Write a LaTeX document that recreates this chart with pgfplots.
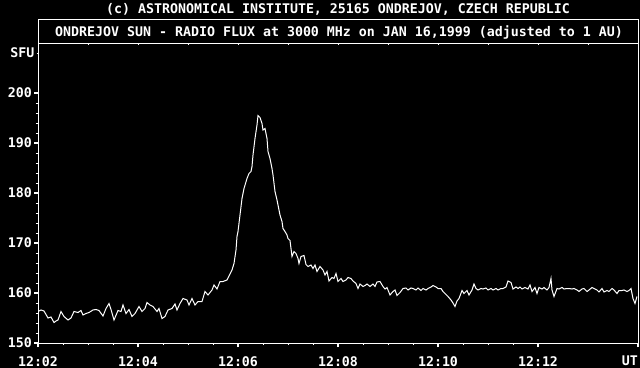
\documentclass[border=0pt]{standalone}
\usepackage{fontspec}
\setmainfont{DejaVu Sans Mono}
\usepackage{pgfplots}
\usepackage{pgfplotstable}
\pgfplotsset{compat=1.18}
\pgfplotstableread{
t f
2.00 156.3
2.06 156.6
2.12 156.4
2.20 155.0
2.26 155.2
2.32 154.1
2.36 154.4
2.40 154.6
2.46 156.3
2.52 155.3
2.60 154.6
2.66 155.0
2.72 156.3
2.80 156.1
2.86 156.5
2.90 155.6
2.96 155.9
3.02 156.1
3.10 156.6
3.16 156.7
3.22 156.5
3.30 155.4
3.36 156.9
3.42 157.9
3.46 156.7
3.52 154.6
3.60 156.5
3.66 156.3
3.70 157.6
3.76 155.9
3.82 156.7
3.88 155.3
3.94 155.9
4.02 157.3
4.08 156.3
4.14 156.9
4.18 158.1
4.24 157.6
4.30 157.3
4.38 156.3
4.42 156.9
4.48 154.9
4.54 155.3
4.60 156.6
4.68 156.9
4.74 157.8
4.78 156.6
4.84 157.9
4.90 158.9
4.98 158.6
5.02 157.6
5.08 158.9
5.14 157.6
5.20 158.3
5.28 158.3
5.34 160.3
5.40 159.6
5.48 160.6
5.52 161.6
5.58 160.8
5.64 162.3
5.70 162.3
5.78 162.6
5.82 163.4
5.88 164.6
5.92 165.9
5.96 168.6
5.98 171.3
6.00 172.3
6.04 175.6
6.08 178.9
6.12 180.9
6.18 182.9
6.22 183.9
6.26 184.3
6.28 185.3
6.30 187.6
6.34 190.9
6.38 193.6
6.40 195.5
6.44 195.1
6.48 193.9
6.50 192.6
6.54 192.9
6.58 190.9
6.60 188.3
6.64 186.9
6.68 184.9
6.70 183.6
6.74 180.3
6.78 178.6
6.80 177.6
6.84 175.6
6.88 174.3
6.90 172.9
6.94 172.3
6.98 171.6
7.00 170.9
7.04 170.5
7.08 167.3
7.12 168.3
7.16 167.9
7.20 166.9
7.22 165.9
7.26 167.3
7.32 167.5
7.36 165.7
7.40 165.3
7.46 165.6
7.50 164.9
7.54 165.6
7.58 164.3
7.64 165.3
7.70 164.6
7.74 163.6
7.78 164.3
7.82 162.4
7.88 163.1
7.92 162.9
7.96 163.9
8.00 162.3
8.06 162.9
8.10 162.3
8.16 162.6
8.20 163.1
8.26 162.9
8.30 162.4
8.36 161.9
8.40 160.9
8.44 161.8
8.50 161.3
8.54 161.5
8.58 161.8
8.64 161.3
8.70 161.8
8.74 161.3
8.78 162.2
8.84 162.3
8.90 161.3
8.94 160.8
8.98 161.1
9.04 159.6
9.10 160.3
9.14 160.6
9.18 159.5
9.24 160.1
9.30 160.9
9.36 161.0
9.40 160.6
9.46 161.0
9.50 160.9
9.56 160.6
9.60 161.0
9.66 160.5
9.70 160.9
9.76 160.6
9.80 160.9
9.86 161.2
9.90 161.5
9.96 161.2
10.00 160.9
10.06 160.9
10.10 160.3
10.16 159.7
10.20 159.3
10.26 158.6
10.30 158.0
10.34 157.3
10.38 158.4
10.42 158.9
10.48 160.5
10.52 159.9
10.58 160.5
10.62 159.6
10.68 160.6
10.72 161.8
10.76 160.9
10.80 160.6
10.86 160.9
10.90 160.8
10.96 161.0
11.00 160.6
11.06 160.9
11.10 160.6
11.16 160.9
11.20 160.6
11.26 160.9
11.30 160.9
11.36 161.2
11.40 162.4
11.46 162.1
11.50 160.8
11.56 161.2
11.60 160.9
11.64 161.2
11.68 160.8
11.74 161.1
11.80 160.8
11.84 161.6
11.88 160.3
11.94 161.1
11.98 159.9
12.02 161.1
12.08 160.8
12.12 161.1
12.18 160.6
12.22 161.1
12.26 162.9
12.28 160.6
12.32 159.3
12.38 160.9
12.42 160.8
12.48 161.1
12.52 160.8
12.58 160.9
12.62 160.9
12.68 160.8
12.72 160.9
12.78 160.6
12.82 160.3
12.88 160.8
12.92 160.9
12.98 160.3
13.02 160.6
13.08 161.1
13.12 160.9
13.18 160.6
13.22 160.2
13.28 160.9
13.32 160.2
13.38 160.5
13.42 160.3
13.48 160.9
13.52 160.6
13.58 159.9
13.62 160.5
13.68 160.5
13.72 160.6
13.78 160.3
13.82 160.5
13.86 160.9
13.90 158.9
13.94 157.9
13.98 159.3
}\fluxdata
\begin{document}
\begin{tikzpicture}
\fill[black] (-38bp,-25bp) rectangle (602bp,343bp);
\begin{axis}[
  at={(0,0)}, anchor=south west,
  scale only axis, width=600bp, height=300bp,
  xmin=2, xmax=14, ymin=150, ymax=210,
  axis line style={white, line width=0.9bp},
  xtick={2,4,...,12}, xticklabels={12:02,12:04,12:06,12:08,12:10,12:12},
  extra x ticks={14}, extra x tick labels={UT},
  extra x tick style={xticklabel style={anchor=north east}},
  ytick={150,160,...,200},
  minor x tick num=3, minor y tick num=4,
  extra y ticks={208}, extra y tick labels={SFU},
  extra y tick style={major tick length=1.5bp, major tick style={line width=0.9bp}},
  tick align=outside, xtick pos=bottom, ytick pos=left,
  major tick length=4bp, minor tick length=2bp,
  tick style={white},
  major tick style={line width=1.6bp},
  minor tick style={line width=0.9bp},
  tick label style={white, font=\bfseries\fontsize{13.33}{14}\selectfont},
  /pgf/number format/assume math mode=true,
  /pgf/number format/1000 sep={},
  yticklabel style={inner sep=0pt, xshift=-2bp},
  xticklabel style={inner sep=0pt, yshift=-9bp},
]
\addplot[white, line width=1bp, mark=none] table[x=t, y=f] {\fluxdata};
\end{axis}
% inside ticks along the top edge, one per minute
\begin{axis}[
  at={(0,0)}, anchor=south west,
  scale only axis, width=600bp, height=300bp,
  xmin=2, xmax=14, ymin=150, ymax=210,
  axis lines=none,
  xtick={3,4,...,13}, xticklabels={},
  ytick=\empty,
]
\end{axis}
\begin{axis}[
  at={(0,0)}, anchor=south west,
  scale only axis, width=600bp, height=300bp,
  xmin=2, xmax=14, ymin=150, ymax=210,
  axis x line*=top, axis y line=none,
  x axis line style={draw=none},
  xtick={3,4,...,13}, xticklabels={},
  xtick pos=top, tick align=inside,
  major tick length=2bp,
  tick style={white, line width=0.9bp},
]
\end{axis}
\draw[white, line width=0.9bp] (0,300bp) rectangle (600bp,323.5bp);
\node[white, anchor=base, inner sep=0pt, font=\bfseries\fontsize{13.33}{14}\selectfont] at (301bp,306.7bp) {ONDREJOV SUN - RADIO FLUX at 3000 MHz on JAN 16,1999 (adjusted to 1 AU)};
\node[white, anchor=base, inner sep=0pt, font=\bfseries\fontsize{13.33}{14}\selectfont] at (300bp,329.7bp) {(c) ASTRONOMICAL INSTITUTE, 25165 ONDREJOV, CZECH REPUBLIC};
\pgfresetboundingbox
\useasboundingbox (-38bp,-25bp) rectangle (602bp,343bp);
\end{tikzpicture}
\end{document}
